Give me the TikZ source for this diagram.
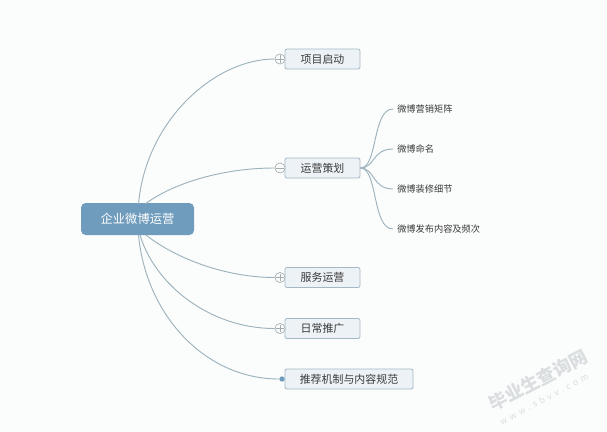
\documentclass[tikz,border=0pt]{standalone}
\usepackage{fontspec}
\newfontfamily\cjk{Noto Sans CJK SC}
\definecolor{bgc}{HTML}{FBFCFC}
\definecolor{rootc}{HTML}{6F9BBD}
\definecolor{boxf}{HTML}{EDF2F6}
\definecolor{boxd}{HTML}{A3B8C4}
\definecolor{linec}{HTML}{9DB3BD}
\definecolor{foldc}{HTML}{A5ADAD}
\definecolor{txt}{HTML}{3A3A3A}
\definecolor{wm}{HTML}{DADEE0}
\tikzset{
 x=0.75pt,y=-0.75pt,
 rootnode/.style={draw=none,fill=rootc,rounded corners=3.5pt,minimum width=84.75pt,minimum height=24pt,inner sep=0pt,text=white,font=\cjk\fontsize{9.2}{11}\selectfont},
 topic/.style={draw=boxd,line width=.6pt,fill=boxf,rounded corners=1.5pt,minimum height=15pt,inner sep=0pt,text=txt,font=\cjk\fontsize{8.2}{10}\selectfont},
 leaf/.style={inner sep=0pt,anchor=west,text=txt,font=\cjk\fontsize{6.9}{8}\selectfont},
 foldnode/.style={circle,draw=foldc,line width=.5pt,fill=bgc,minimum size=7.6pt,inner sep=0pt},
 conn/.style={draw=linec,line width=.7pt},
 wmark/.style={text=wm,rotate=28,inner sep=0pt},
}
\begin{document}
\begin{tikzpicture}
\path[fill=bgc] (0,0) rectangle (607,432);
\useasboundingbox (0,0) rectangle (607,432);
\node[rootnode] (root) at (137.5,219) {企业微博运营};
\node[topic,minimum width=56.25pt] (t1) at (322.5,59) {项目启动};
\node[topic,minimum width=56.25pt] (t2) at (322.5,168) {运营策划};
\node[topic,minimum width=56.25pt] (t3) at (322.5,277.5) {服务运营};
\node[topic,minimum width=56.25pt] (t4) at (322.5,328.5) {日常推广};
\node[topic,minimum width=96pt] (t5) at (349,379) {推荐机制与内容规范};
\node[foldnode] (f1) at (280,59) {};
\node[foldnode] (f2) at (280,168) {};
\node[foldnode] (f3) at (280,277.5) {};
\node[foldnode] (f4) at (280,328.5) {};
\node[circle,fill=rootc,minimum size=4pt,inner sep=0pt] (f5) at (282,379) {};
\node[leaf] (l1) at (397,109) {微博营销矩阵};
\node[leaf] (l2) at (397,149) {微博命名};
\node[leaf] (l3) at (397,189) {微博装修细节};
\node[leaf] (l4) at (397,229) {微博发布内容及频次};
\coordinate (r1) at (138.5,204);
\coordinate (r2) at (145,204);
\coordinate (r3) at (146,235);
\coordinate (r4) at (140,235);
\coordinate (r5) at (138.5,235);
\draw[conn] (r1) .. controls (146,120) and (215,59) .. (f1.west);
\draw[conn] (r2) .. controls (175,182) and (225,168) .. (f2.west);
\draw[conn] (r3) .. controls (175,258) and (225,277.5) .. (f3.west);
\draw[conn] (r4) .. controls (155,285) and (210,328.5) .. (f4.west);
\draw[conn] (r5) .. controls (146,315) and (205,379) .. (f5.west);
\coordinate (s) at (t2.east);
\draw[conn] (s) .. controls (378,168) and (372,109) .. ([xshift=-3pt]l1.west);
\draw[conn] (s) .. controls (375,168) and (372,149) .. ([xshift=-3pt]l2.west);
\draw[conn] (s) .. controls (375,168) and (372,189) .. ([xshift=-3pt]l3.west);
\draw[conn] (s) .. controls (378,168) and (372,229) .. ([xshift=-3pt]l4.west);
\draw[foldc,line width=.5pt] ([xshift=-2.9pt]f1.center) -- ([xshift=2.9pt]f1.center) ([yshift=-2.9pt]f1.center) -- ([yshift=2.9pt]f1.center);
\draw[foldc,line width=.5pt] ([xshift=-2.9pt]f2.center) -- ([xshift=2.9pt]f2.center);
\draw[foldc,line width=.5pt] ([xshift=-2.9pt]f3.center) -- ([xshift=2.9pt]f3.center) ([yshift=-2.9pt]f3.center) -- ([yshift=2.9pt]f3.center);
\draw[foldc,line width=.5pt] ([xshift=-2.9pt]f4.center) -- ([xshift=2.9pt]f4.center) ([yshift=-2.9pt]f4.center) -- ([yshift=2.9pt]f4.center);
\node[wmark,font=\cjk\bfseries\fontsize{13.5}{15}\selectfont] (w1) at (538,380) {毕业生查询网};
\node[wmark,font=\cjk\fontsize{6.5}{8}\selectfont\addfontfeature{LetterSpace=40}] (w2) at (544,399) {www.sbvv.com};
\end{tikzpicture}
\end{document}
